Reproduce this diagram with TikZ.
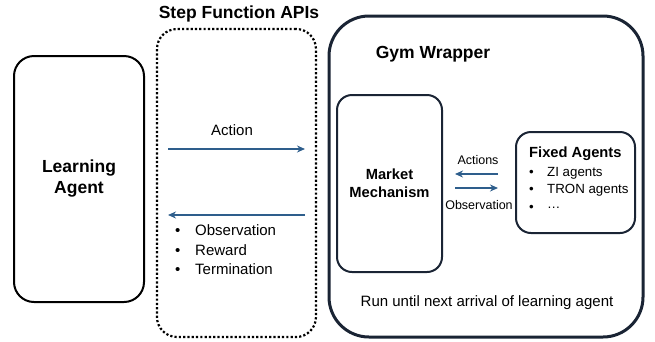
\documentclass[tikz,border=0pt]{standalone}
\usepackage{fontspec}
\setmainfont{Liberation Sans}
\usetikzlibrary{arrows.meta}
\definecolor{arrowblue}{RGB}{46,94,140}
\definecolor{navy}{RGB}{26,36,52}
\begin{document}
\begin{tikzpicture}[x=1pt,y=-1pt,
  box/.style={draw, rounded corners=#1, line width=2pt, inner sep=0pt, align=center},
  box/.default=20pt,
  flow/.style={draw=arrowblue, line width=1.8pt, -{Stealth[length=8pt,width=7pt]}},
  bigbold/.style={font=\fontsize{17.5}{21}\selectfont\bfseries},
  midbold/.style={font=\fontsize{14.7}{18}\selectfont\bfseries},
  normtxt/.style={font=\fontsize{15}{18}\selectfont, inner sep=0pt},
  smalltxt/.style={font=\fontsize{12.5}{15}\selectfont, inner sep=0pt},
  listtxt/.style={font=\fontsize{13.3}{16}\selectfont, inner sep=0pt, anchor=mid west},
  bigtxt/.style={font=\fontsize{15}{18}\selectfont, inner sep=0pt, anchor=mid west}
]
\useasboundingbox (0,0) rectangle (655,341);

% boxes
\node[box, minimum width=130pt, minimum height=246pt, bigbold] (agent) at (79,179) {Learning\\Agent};
\node[box, draw=black, minimum width=159pt, minimum height=308pt, line width=2.2pt,
      dash pattern=on 2.2pt off 2.1pt] (api) at (236.5,183) {};
\node[box=40pt, draw=navy, line width=3pt, minimum width=314pt, minimum height=321pt] (gym) at (486,176.5) {};
\node[box=15pt, draw=navy, minimum width=105pt, minimum height=177pt, midbold] (market) at (389.5,183.5) {Market\\Mechanism};
\node[box=15pt, draw=navy, minimum width=119pt, minimum height=101pt] (fixed) at (575.5,182.5) {};

% titles
\node[bigbold, inner sep=0pt] (apititle) at (239,14) {Step Function APIs};
\node[bigbold, inner sep=0pt] (gymtitle) at (433,54) {Gym Wrapper};
\node[normtxt] (run) at (487,303) {Run until next arrival of learning agent};

% step function arrows
\coordinate (a1) at (168,149);
\coordinate (a2) at (305,149);
\coordinate (o1) at (305,215);
\coordinate (o2) at (168,215);
\draw[flow] (a1) -- (a2);
\draw[flow] (o1) -- (o2);
\node[normtxt] (actlbl) at (232,130) {Action};

% left bullets
\node[bigtxt] (b1) at (175,233) {•};
\node[bigtxt] (b2) at (175,253) {•};
\node[bigtxt] (b3) at (175,272) {•};
\node[bigtxt] (t1) at (195,233) {Observation};
\node[bigtxt] (t2) at (195,253) {Reward};
\node[bigtxt] (t3) at (195,272) {Termination};

% inner arrows
\coordinate (c1) at (498,174);
\coordinate (c2) at (455,174);
\coordinate (d1) at (455,188);
\coordinate (d2) at (498,188);
\draw[flow, line width=1.6pt] (c1) -- (c2);
\draw[flow, line width=1.6pt] (d1) -- (d2);
\node[smalltxt] (actslbl) at (478,160) {Actions};
\node[smalltxt] (obslbl) at (479,205) {Observation};

% fixed agents content
\node[midbold, inner sep=0pt, anchor=mid west] (fixtitle) at (529,155) {Fixed Agents};
\node[listtxt] (fb1) at (529,174) {•};
\node[listtxt] (fb2) at (529,191) {•};
\node[listtxt] (fb3) at (529,208.5) {•};
\node[listtxt] (ft1) at (547,174) {ZI agents};
\node[listtxt] (ft2) at (547,191) {TRON agents};
\node[listtxt] (ft3) at (547,206) {…};
\end{tikzpicture}
\end{document}
